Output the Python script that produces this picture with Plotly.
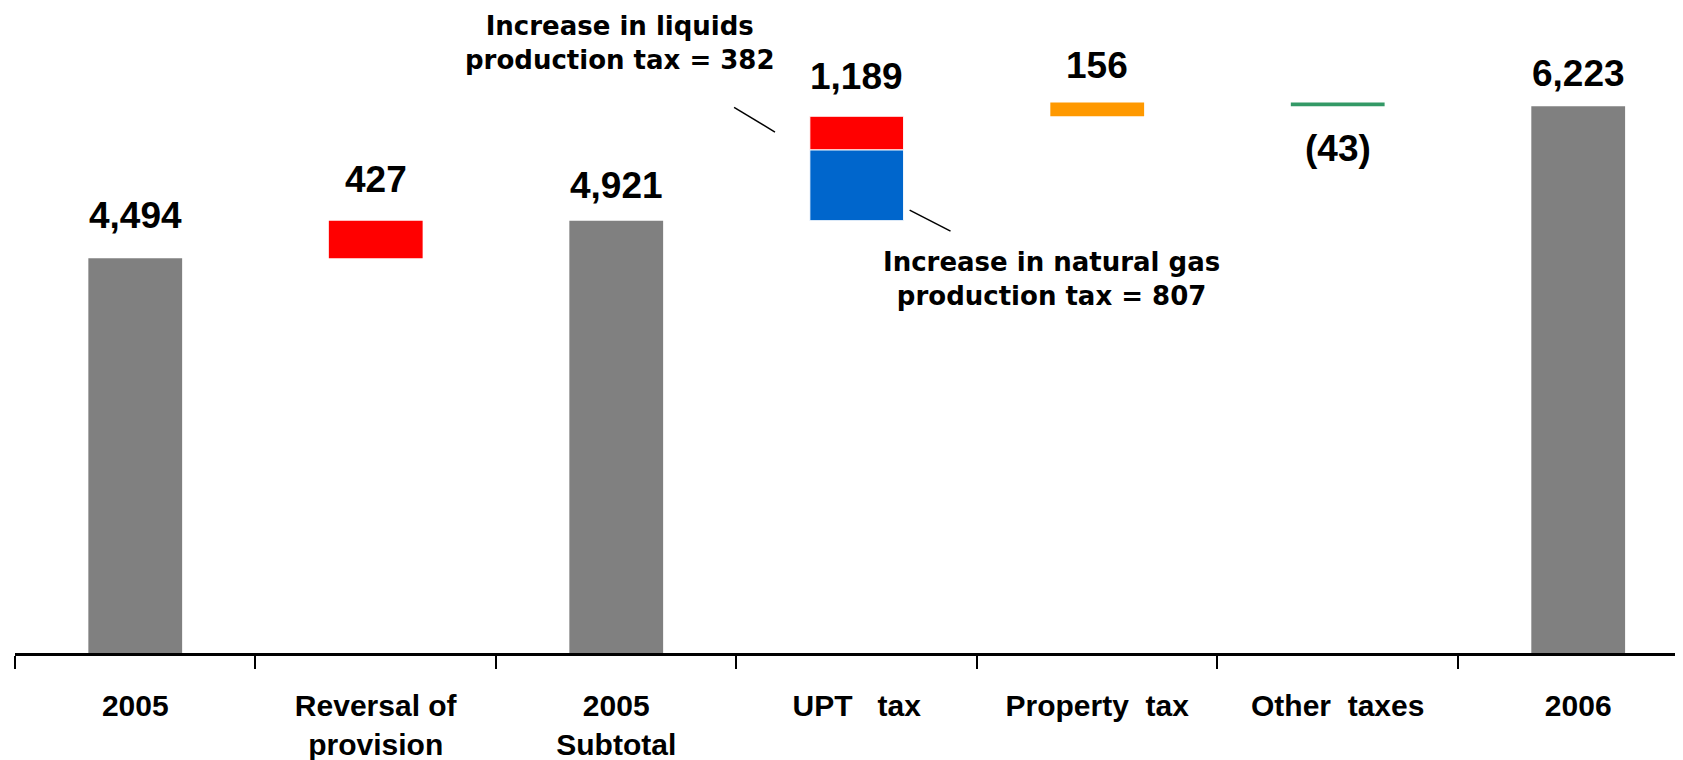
import plotly.graph_objects as go

categories = ["2005", "Reversal of<br>provision", "2005<br>Subtotal", "UPT\u00a0\u00a0 tax",
              "Property\u00a0 tax", "Other\u00a0 taxes", "2006"]
start_2005 = 4494
reversal = 427
subtotal_2005 = 4921
upt_gas = 807
upt_liquids = 382
upt_total = 1189
property_tax = 156
other_taxes = -43
end_2006 = 6223

value_labels = ["4,494", "427", "4,921", "1,189", "156", "(43)", "6,223"]

GRAY = "#808080"
RED = "#FF0000"
BLUE = "#0066CC"
ORANGE = "#FF9900"
GREEN = "#339966"
W = 0.39

fig = go.Figure()
# totals
fig.add_trace(go.Bar(x=[categories[0], categories[2], categories[6]],
                     y=[start_2005, subtotal_2005, end_2006],
                     marker=dict(color=GRAY, line=dict(width=0)), width=W))
# reversal
fig.add_trace(go.Bar(x=[categories[1]], y=[reversal], base=[start_2005],
                     marker=dict(color=RED, line=dict(width=0)), width=W))
# UPT gas
fig.add_trace(go.Bar(x=[categories[3]], y=[upt_gas], base=[subtotal_2005],
                     marker=dict(color=BLUE, line=dict(width=1, color="white")), width=W))
# UPT liquids
fig.add_trace(go.Bar(x=[categories[3]], y=[upt_liquids], base=[subtotal_2005 + upt_gas],
                     marker=dict(color=RED, line=dict(width=1, color="white")), width=W))
after_upt = subtotal_2005 + upt_total
# property
fig.add_trace(go.Bar(x=[categories[4]], y=[property_tax], base=[after_upt],
                     marker=dict(color=ORANGE, line=dict(width=0)), width=W))
after_prop = after_upt + property_tax
# other taxes
fig.add_trace(go.Bar(x=[categories[5]], y=[other_taxes], base=[after_prop],
                     marker=dict(color=GREEN, line=dict(width=0)), width=W))

tops = [start_2005, start_2005 + reversal, subtotal_2005, after_upt, after_prop, None, end_2006]
shifts = [43, 41, 35, 40, 37, None, 33]
vfont = dict(family="Liberation Sans, Arial, sans-serif", size=37, color="black", weight="bold")
for i, lab in enumerate(value_labels):
    if i == 5:
        fig.add_annotation(x=i, y=after_prop + other_taxes, text=lab, showarrow=False,
                           yshift=-42, font=vfont, yanchor="middle")
    else:
        fig.add_annotation(x=i, y=tops[i], text=lab, showarrow=False,
                           yshift=shifts[i], font=vfont, yanchor="middle")

afont = dict(family="DejaVu Sans, Verdana, sans-serif", size=26, color="black", weight="bold")
fig.add_annotation(x=2.015, y=6943, text="Increase in liquids<br>production tax = 382",
                   showarrow=False, font=afont, align="center", yanchor="middle")
fig.add_annotation(x=3.81, y=4253, text="Increase in natural gas<br>production tax = 807",
                   showarrow=False, font=afont, align="center", yanchor="middle")
fig.add_shape(type="line", x0=2.49, y0=6211, x1=2.66, y1=5930, xref="x", yref="y",
              line=dict(color="black", width=1.5))
fig.add_shape(type="line", x0=3.22, y0=5041, x1=3.39, y1=4802, xref="x", yref="y",
              line=dict(color="black", width=1.5))

fig.update_layout(
    width=1683, height=760,
    margin=dict(l=7, r=0, t=0, b=115),
    paper_bgcolor="white", plot_bgcolor="white",
    barmode="overlay", showlegend=False,
    xaxis=dict(type="category", range=[-0.5, 6.469], tickson="boundaries",
               ticks="outside", ticklen=13, tickwidth=2, tickcolor="black",
               showline=True, linecolor="black", linewidth=3, showgrid=False,
               ticklabelstandoff=24,
               tickfont=dict(family="Liberation Sans, Arial, sans-serif", size=30,
                             color="black", weight="bold"),
               categoryorder="array", categoryarray=categories),
    yaxis=dict(range=[0, 7342], visible=False, showgrid=False, zeroline=False),
)
fig.write_html("out.html")
